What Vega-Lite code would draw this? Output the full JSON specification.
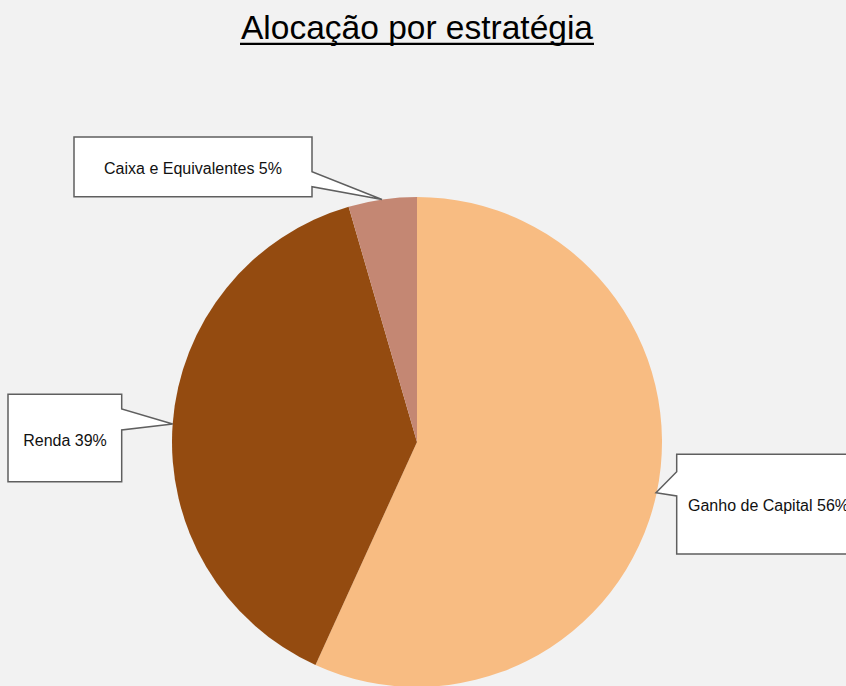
{
  "$schema": "https://vega.github.io/schema/vega-lite/v6.json",
  "autosize": "none",
  "width": 490,
  "height": 488,
  "padding": {"left": 172, "top": 198, "right": 184, "bottom": 0},
  "background": "#f2f2f2",
  "config": {"view": {"stroke": null}},
  "title": {
    "text": "Alocação por estratégia",
    "font": "Liberation Sans",
    "fontSize": 33.5,
    "fontWeight": "normal",
    "color": "#000000",
    "anchor": "middle",
    "frame": "group",
    "baseline": "alphabetic",
    "offset": 3,
    "dy": 33
  },
  "data": {
    "values": [
      {"categoria": "Ganho de Capital", "valor": 56.8, "ordem": 1, "rotulo": "Ganho de Capital 56%"},
      {"categoria": "Renda", "valor": 38.7, "ordem": 2, "rotulo": "Renda 39%"},
      {"categoria": "Caixa e Equivalentes", "valor": 4.5, "ordem": 3, "rotulo": "Caixa e Equivalentes 5%"}
    ]
  },
  "layer": [
    {
      "mark": {"type": "arc", "outerRadius": 245},
      "encoding": {
        "theta": {"field": "valor", "type": "quantitative", "stack": true},
        "order": {"field": "ordem", "type": "quantitative"},
        "color": {
          "field": "categoria",
          "type": "nominal",
          "scale": {
            "domain": ["Ganho de Capital", "Renda", "Caixa e Equivalentes"],
            "range": ["#f8bc82", "#944b10", "#c48773"]
          },
          "legend": null
        }
      }
    },
    {
      "mark": {"type": "point", "filled": true, "fill": "#ffffff", "stroke": "#5f5f5f", "strokeWidth": 1.5, "size": 4, "opacity": 1},
      "encoding": {
        "shape": {
          "field": "categoria",
          "type": "nominal",
          "scale": {
            "domain": ["Ganho de Capital", "Renda", "Caixa e Equivalentes"],
            "range": [
              "M259.7,12.3L445,12.3L445,112L259.7,112L259.7,54L239,50.7L259.7,29.7Z",
              "M-409,-47.7L-295.3,-47.7L-295.3,-33L-244.3,-18L-295.3,-12L-295.3,39.7L-409,39.7Z",
              "M-343,-305L-105,-305L-105,-270.3L-35,-242.5L-105,-255.3L-105,-245.3L-343,-245.3Z"
            ]
          },
          "legend": null
        }
      }
    },
    {
      "data": {"values": [{"decoracao": "sublinhado do título"}]},
      "mark": {"type": "point", "filled": true, "fill": "#000000", "strokeWidth": 0, "size": 4, "opacity": 1, "shape": "M-177,-399.3L177,-399.3L177,-397L-177,-397Z"},
      "encoding": {}
    },
    {
      "transform": [{"filter": "datum.categoria === 'Caixa e Equivalentes'"}],
      "mark": {"type": "text", "font": "Liberation Sans", "fontSize": 16, "color": "#111111", "align": "center", "baseline": "middle", "dx": -224, "dy": -273},
      "encoding": {"text": {"field": "rotulo", "type": "nominal"}}
    },
    {
      "transform": [{"filter": "datum.categoria === 'Renda'"}],
      "mark": {"type": "text", "font": "Liberation Sans", "fontSize": 16, "color": "#111111", "align": "center", "baseline": "middle", "dx": -352, "dy": -1.5},
      "encoding": {"text": {"field": "rotulo", "type": "nominal"}}
    },
    {
      "transform": [{"filter": "datum.categoria === 'Ganho de Capital'"}],
      "mark": {"type": "text", "font": "Liberation Sans", "fontSize": 16, "color": "#111111", "align": "left", "baseline": "middle", "dx": 271, "dy": 64},
      "encoding": {"text": {"field": "rotulo", "type": "nominal"}}
    }
  ]
}
